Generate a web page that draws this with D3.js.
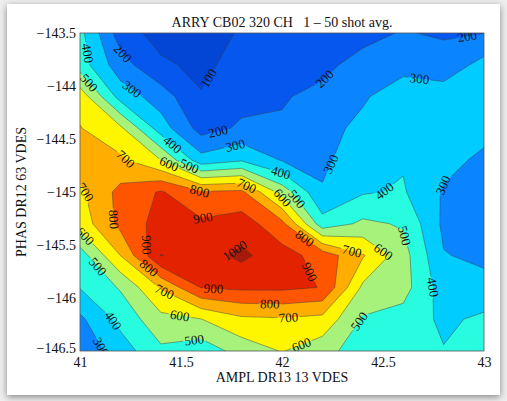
<!DOCTYPE html>
<html>
<head>
<meta charset="utf-8">
<title>ARRY CB02 320 CH contour</title>
<script src="https://cdn.jsdelivr.net/npm/d3@7"></script>
<style>
  body { margin: 0; background: #efefef; }
  #page { position: absolute; left: 7px; top: 4px; width: 493px; height: 391px; background: #fff;
          box-shadow: 0 2px 7px rgba(0, 0, 0, 0.45); }
  svg { position: absolute; left: 0; top: 0; }
  text { font-family: "Liberation Serif", "Times New Roman", serif; fill: #111; }
</style>
</head>
<body>
<div id="page"></div>
<svg width="507" height="401"></svg>
<script>
  // scan grid: AMPL DR13 (columns) x PHAS DR12 (rows, top to bottom)
  const ampl = [41, 41.2, 41.4, 41.6, 41.8, 42, 42.2, 42.4, 42.6, 42.8, 43];
  const phas = [-143.5, -143.8, -144.1, -144.4, -144.7, -145, -145.3, -145.6, -145.9, -146.2, -146.5];

  // 1 - 50 shot average signal, one row per PHAS value
  const signal = [
    [430, 150,   60,  55,  110, 140, 160, 180, 205, 190, 198],
    [450, 240,  118,  75,  140, 170, 185, 222, 260, 235, 336],
    [660, 360,  250, 107,  170, 195, 215, 285, 368, 358, 360],
    [705, 620,  350, 161,  215, 207, 260, 330, 380, 350, 330],
    [760, 720,  600, 340,  390, 295, 280, 360, 390, 330, 280],
    [680, 830,  910, 810,  820, 560, 309, 390, 410, 290, 250],
    [640, 830,  940, 920,  950, 830, 440, 520, 490, 280, 250],
    [450, 700, 1003, 960, 1022, 940, 860, 710, 540, 305, 280],
    [405, 510,  710, 905,  920, 920, 897, 580, 540, 350, 330],
    [280, 430,  570, 598,  680, 690, 670, 490, 460, 380, 420],
    [230, 350,  480, 440,  540, 605, 540, 440, 430, 405, 430]
  ];

  const levels = [100, 200, 300, 400, 500, 600, 700, 800, 900, 1000];
  const bandColors = ['#0346d6', '#0657ee', '#0a84ff', '#00ccff', '#28fce0', '#a6f27a',
                      '#fef600', '#ffae00', '#ff5400', '#e32300', '#a51a0a'];

  const xTicks = [41, 41.5, 42, 42.5, 43];
  const yTicks = [-146.5, -146, -145.5, -145, -144.5, -144, -143.5];

  // inline contour labels: level, AMPL, PHAS
  const labelLevel = [400, 500, 200, 300, 100, 200, 300, 400, 600, 500, 700, 700, 400, 200, 300, 200,
                      300, 300, 600, 500, 400, 800, 900, 700, 800, 900, 1000, 800, 700, 900, 800, 700,
                      600, 500, 600, 500, 400, 300, 800, 900, 700, 600, 500, 400, 500, 600];
  const labelAmpl = [41.04, 41.05, 41.19, 41.25, 41.64, 41.68, 41.76, 41.45, 41.44, 41.54, 41.23, 41.83,
                     42.0, 42.22, 42.68, 42.92, 42.28, 42.79, 42.01, 42.09, 42.49, 41.58, 41.61, 41.04,
                     41.15, 41.3, 41.78, 41.34, 41.42, 41.66, 41.94, 42.03, 41.49, 41.56, 41.04, 41.09,
                     41.15, 41.16, 42.1, 42.13, 42.35, 42.5, 42.57, 42.74, 42.36, 42.09];
  const labelPhas = [-143.69, -143.96, -143.73, -144.05, -143.93, -144.4, -144.49, -144.57, -144.74,
                     -144.76, -144.68, -144.92, -144.78, -143.95, -143.94, -143.57, -144.77, -144.93,
                     -145.04, -145.04, -144.95, -145.08, -145.26, -144.99, -145.26, -145.5, -145.59,
                     -145.72, -145.93, -145.96, -146.04, -146.13, -146.21, -146.32, -145.39, -145.7,
                     -146.23, -146.4, -145.47, -145.76, -145.53, -145.57, -145.43, -145.9, -146.19, -146.41];

  const svg = d3.select('svg');
  const margin = { top: 33, right: 23, bottom: 50, left: 80 };
  const width = 507 - margin.left - margin.right;
  const height = 401 - margin.top - margin.bottom;

  const x = d3.scaleLinear().domain([41, 43]).range([margin.left, margin.left + width]);
  const y = d3.scaleLinear().domain([-146.5, -143.5]).range([margin.top + height, margin.top]);

  const nx = ampl.length, ny = phas.length;
  const stepX = ampl[1] - ampl[0], stepY = phas[1] - phas[0];
  // d3.contours puts grid values at cell centres (i + 0.5)
  const toPx = ([c, r]) => [x(ampl[0] + (c - 0.5) * stepX), y(phas[0] + (r - 0.5) * stepY)];
  const inGrid = ([c, r]) => c >= 0.5 - 1e-9 && c <= nx - 0.5 + 1e-9 && r >= 0.5 - 1e-9 && r <= ny - 0.5 + 1e-9;

  const contours = d3.contours().size([nx, ny]).thresholds(levels)(signal.flat());
  const path = d3.geoPath(d3.geoTransform({
    point(c, r) { const p = toPx([c, r]); this.stream.point(p[0], p[1]); }
  }));

  const defs = svg.append('defs');
  defs.append('clipPath').attr('id', 'plot-clip')
    .append('rect')
    .attr('x', margin.left).attr('y', margin.top)
    .attr('width', width).attr('height', height);

  // labels: snap each to its contour and turn it along the line
  function placeLabel(level, ax, ph) {
    const ci = levels.indexOf(level);
    const px = x(ax), py = y(ph);
    let best = { d: Infinity, x: px, y: py, a: 0 };
    contours[ci].coordinates.forEach(poly => poly.forEach(ring => {
      for (let k = 0; k < ring.length - 1; k++) {
        if (!inGrid(ring[k]) || !inGrid(ring[k + 1])) continue;
        const A = toPx(ring[k]), B = toPx(ring[k + 1]);
        const vx = B[0] - A[0], vy = B[1] - A[1];
        const len2 = vx * vx + vy * vy;
        if (len2 === 0) continue;
        const t = Math.max(0, Math.min(1, ((px - A[0]) * vx + (py - A[1]) * vy) / len2));
        const qx = A[0] + t * vx, qy = A[1] + t * vy;
        const d = Math.hypot(px - qx, py - qy);
        if (d < best.d) {
          let a = Math.atan2(vy, vx) * 180 / Math.PI;
          if (a > 90) a -= 180;
          if (a < -90) a += 180;
          best = { d, x: qx, y: qy, a };
        }
      }
    }));
    return { level, x: best.x, y: best.y, a: best.a };
  }
  const placed = labelLevel.map((v, i) => placeLabel(v, labelAmpl[i], labelPhas[i]));

  const mask = defs.append('mask').attr('id', 'label-gap')
    .attr('maskUnits', 'userSpaceOnUse')
    .attr('x', 0).attr('y', 0).attr('width', 507).attr('height', 401);
  mask.append('rect').attr('width', 507).attr('height', 401).attr('fill', '#fff');
  mask.selectAll('.gap')
    .data(placed)
    .enter()
    .append('rect')
    .attr('class', 'gap')
    .attr('x', d => -String(d.level).length * 3.4 - 1)
    .attr('y', -5)
    .attr('width', d => String(d.level).length * 6.8 + 2)
    .attr('height', 10)
    .attr('fill', '#000')
    .attr('transform', d => `translate(${d.x},${d.y}) rotate(${d.a})`);

  const plot = svg.append('g').attr('clip-path', 'url(#plot-clip)');
  plot.append('rect')
    .attr('x', margin.left).attr('y', margin.top)
    .attr('width', width).attr('height', height)
    .attr('fill', bandColors[0]);

  plot.selectAll('.band')
    .data(contours)
    .enter()
    .append('path')
    .attr('class', 'band')
    .attr('d', path)
    .attr('fill', (d, i) => bandColors[i + 1]);

  plot.append('g')
    .attr('mask', 'url(#label-gap)')
    .selectAll('.line')
    .data(contours)
    .enter()
    .append('path')
    .attr('class', 'line')
    .attr('d', path)
    .attr('fill', 'none')
    .attr('stroke', '#3a3a3a')
    .attr('stroke-opacity', 0.75)
    .attr('stroke-width', 0.6);

  plot.selectAll('.clabel')
    .data(placed)
    .enter()
    .append('text')
    .attr('class', 'clabel')
    .attr('transform', d => `translate(${d.x},${d.y}) rotate(${d.a})`)
    .attr('text-anchor', 'middle')
    .attr('dy', '0.35em')
    .style('font-size', '13px')
    .text(d => d.level);

  svg.append('rect')
    .attr('x', margin.left).attr('y', margin.top)
    .attr('width', width).attr('height', height)
    .attr('fill', 'none')
    .attr('stroke', '#555')
    .attr('stroke-width', 0.8);

  // axes (ticks sit under the fill, so only labels show)
  const tickFmt = d3.format('~g');
  const xAxis = svg.append('g')
    .attr('transform', `translate(0,${margin.top + height})`)
    .call(d3.axisBottom(x).tickValues(xTicks).tickFormat(tickFmt).tickSize(0).tickPadding(6));
  const yAxis = svg.append('g')
    .attr('transform', `translate(${margin.left},0)`)
    .call(d3.axisLeft(y).tickValues(yTicks).tickFormat(tickFmt).tickSize(0).tickPadding(4));
  [xAxis, yAxis].forEach(g => {
    g.select('.domain').remove();
    g.selectAll('text').attr('fill', '#111')
      .style('font-family', '"Liberation Serif", "Times New Roman", serif')
      .style('font-size', '14px');
  });
  // lowest y label sits a little high, as in the original figure
  yAxis.selectAll('.tick text').filter(d => d === -146.5).attr('dy', '0.1em');

  svg.append('text')
    .attr('x', x(42)).attr('y', 27)
    .attr('text-anchor', 'middle')
    .style('font-size', '14px')
    .style('white-space', 'pre')
    .attr('xml:space', 'preserve')
    .text('ARRY CB02 320 CH   1 \u2013 50 shot avg.');

  svg.append('text')
    .attr('x', x(42)).attr('y', 382)
    .attr('text-anchor', 'middle')
    .style('font-size', '14px')
    .text('AMPL DR13 13 VDES');

  svg.append('text')
    .attr('transform', `translate(26,${y(-145)}) rotate(-90)`)
    .attr('text-anchor', 'middle')
    .style('font-size', '14px')
    .text('PHAS DR12 63 VDES');
</script>
</body>
</html>
